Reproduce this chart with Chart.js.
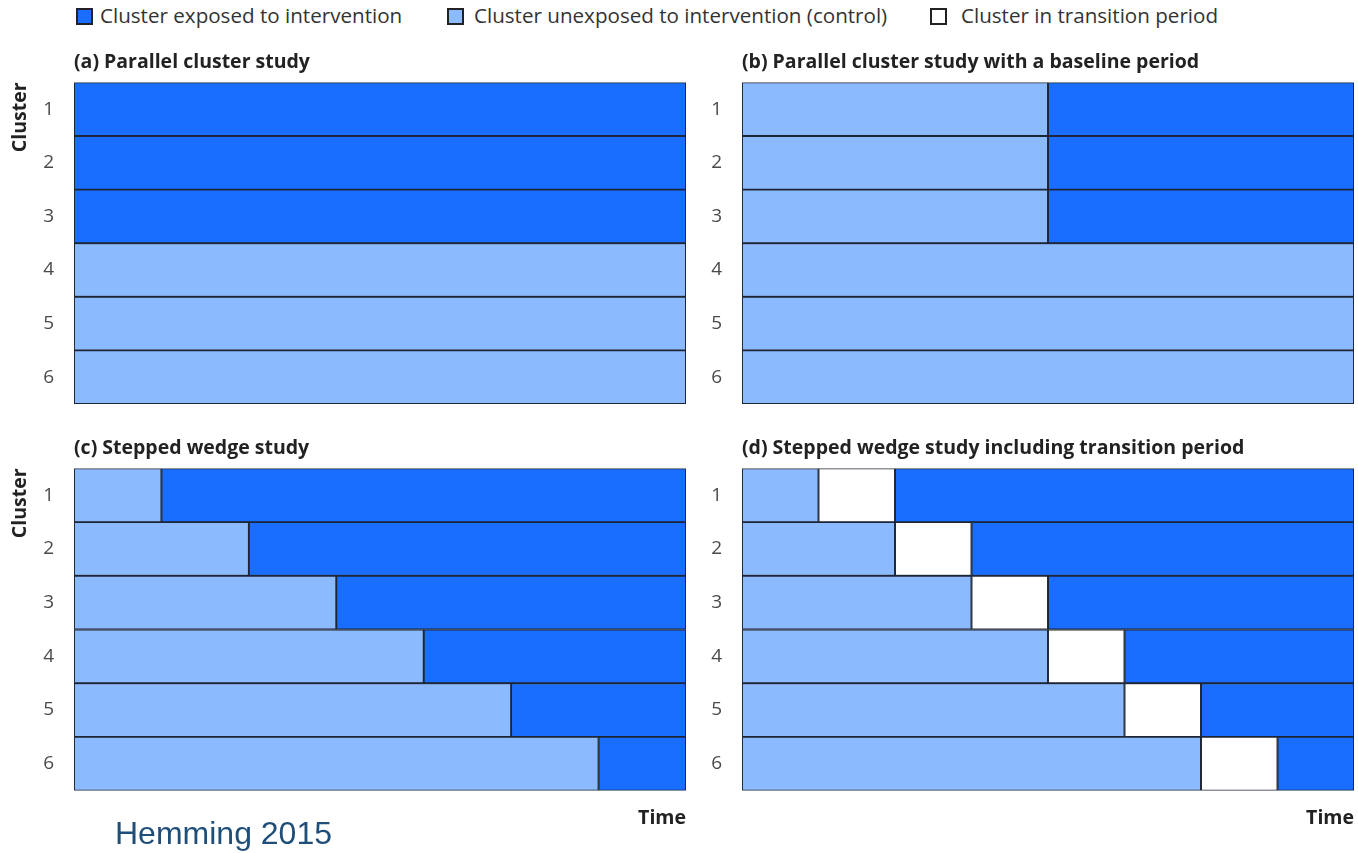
<!DOCTYPE html>
<html>
<head>
<meta charset="utf-8">
<script src="https://cdn.jsdelivr.net/npm/chart.js@4.4.1/dist/chart.umd.min.js"></script>
<style>
  html, body { margin: 0; padding: 0; background: #fff; }
  #page { position: relative; width: 1358px; height: 853px; overflow: hidden; }
  .panel { position: absolute; }
  .legend-item { position: absolute; top: 2px; font-family: "Open Sans", sans-serif; font-size: 20.6px; color: #333; white-space: nowrap; line-height: 26px; }
  .swatch { position: absolute; top: 6px; width: 13px; height: 13px; border: 2px solid #222; }
  #source { position: absolute; left: 115px; top: 817px; font-family: "Liberation Sans", Arial, sans-serif; font-size: 32px; line-height: 32px; color: #1f4e79; z-index: 5; }
</style>
</head>
<body>
<div id="page">
  <div class="legend-item" style="left:100px"><span class="swatch" style="left:-24px;background:#1a6eff"></span>Cluster exposed to intervention</div>
  <div class="legend-item" style="left:474px"><span class="swatch" style="left:-27px;background:#8cbaff"></span>Cluster unexposed to intervention (control)</div>
  <div class="legend-item" style="left:961px"><span class="swatch" style="left:-31px;background:#fff"></span>Cluster in transition period</div>

  <div class="panel" style="left:0;top:41px;width:700px;height:389px"><canvas id="chartA"></canvas></div>
  <div class="panel" style="left:700px;top:41px;width:658px;height:389px"><canvas id="chartB"></canvas></div>
  <div class="panel" style="left:0;top:426px;width:700px;height:407px"><canvas id="chartC"></canvas></div>
  <div class="panel" style="left:700px;top:426px;width:658px;height:407px"><canvas id="chartD"></canvas></div>

  <div id="source">Hemming 2015</div>
</div>

<script>
// clusters (rows) and period lengths for each design
const clusters = ['1', '2', '3', '4', '5', '6'];

// (a) parallel: one period
const aControl  = [0, 0, 0, 1, 1, 1];
const aExposed  = [1, 1, 1, 0, 0, 0];
// (b) parallel with baseline: two periods
const bControl  = [1, 1, 1, 2, 2, 2];
const bExposed  = [1, 1, 1, 0, 0, 0];
// (c) stepped wedge: seven periods
const cControl  = [1, 2, 3, 4, 5, 6];
const cExposed  = [6, 5, 4, 3, 2, 1];
// (d) stepped wedge with transition: eight periods
const dControl    = [1, 2, 3, 4, 5, 6];
const dTransition = [1, 1, 1, 1, 1, 1];
const dExposed    = [6, 5, 4, 3, 2, 1];

const EXPOSED = '#1a6eff';
const CONTROL = '#8cbaff';
const TRANSITION = '#ffffff';
const EDGE = '#1e2634';
const BOLD = { family: 'Open Sans', size: 19.5, weight: 'bold' };

function barSet(label, data, color) {
  return {
    label: label,
    data: data,
    backgroundColor: color,
    borderColor: EDGE,
    borderWidth: 1.3,
    borderSkipped: false,
    barPercentage: 1,
    categoryPercentage: 1
  };
}

function makePanel(id, opts) {
  new Chart(document.getElementById(id), {
    type: 'bar',
    data: { labels: clusters, datasets: opts.datasets },
    options: {
      indexAxis: 'y',
      responsive: true,
      maintainAspectRatio: false,
      animation: false,
      layout: { padding: { right: opts.padRight, bottom: opts.showTime ? 0 : 26 } },
      plugins: {
        legend: { display: false },
        tooltip: { enabled: false },
        title: {
          display: true,
          text: opts.title,
          align: 'start',
          fullSize: false,
          color: '#222',
          font: BOLD,
          padding: { top: opts.showTime ? 11 : 10, bottom: 8 }
        }
      },
      scales: {
        x: {
          stacked: true,
          min: 0,
          max: opts.periods,
          display: opts.showTime,
          grid: { display: false },
          border: { display: false },
          ticks: { display: false },
          title: {
            display: true,
            text: 'Time',
            align: 'end',
            color: '#222',
            font: BOLD,
            padding: { top: 8, bottom: 3 }
          }
        },
        y: {
          stacked: true,
          grid: { display: false },
          border: { display: false },
          ticks: {
            color: '#4a4a4a',
            padding: 12,
            font: { family: 'Open Sans', size: 19 }
          },
          title: {
            display: opts.showCluster,
            text: 'Cluster',
            align: 'end',
            color: '#222',
            font: BOLD,
            padding: { top: 9, bottom: 0 }
          },
          afterFit: function(scale) {
            scale.width = opts.axisWidth;
          }
        }
      }
    }
  });
}

makePanel('chartA', {
  title: '(a) Parallel cluster study',
  periods: 1, showTime: false, showCluster: true, axisWidth: 74, padRight: 14,
  datasets: [
    barSet('Cluster unexposed to intervention (control)', aControl, CONTROL),
    barSet('Cluster exposed to intervention', aExposed, EXPOSED)
  ]
});

makePanel('chartB', {
  title: '(b) Parallel cluster study with a baseline period',
  periods: 2, showTime: false, showCluster: false, axisWidth: 42, padRight: 4,
  datasets: [
    barSet('Cluster unexposed to intervention (control)', bControl, CONTROL),
    barSet('Cluster exposed to intervention', bExposed, EXPOSED)
  ]
});

makePanel('chartC', {
  title: '(c) Stepped wedge study',
  periods: 7, showTime: true, showCluster: true, axisWidth: 74, padRight: 14,
  datasets: [
    barSet('Cluster unexposed to intervention (control)', cControl, CONTROL),
    barSet('Cluster exposed to intervention', cExposed, EXPOSED)
  ]
});

makePanel('chartD', {
  title: '(d) Stepped wedge study including transition period',
  periods: 8, showTime: true, showCluster: false, axisWidth: 42, padRight: 4,
  datasets: [
    barSet('Cluster unexposed to intervention (control)', dControl, CONTROL),
    barSet('Cluster in transition period', dTransition, TRANSITION),
    barSet('Cluster exposed to intervention', dExposed, EXPOSED)
  ]
});
</script>
</body>
</html>
